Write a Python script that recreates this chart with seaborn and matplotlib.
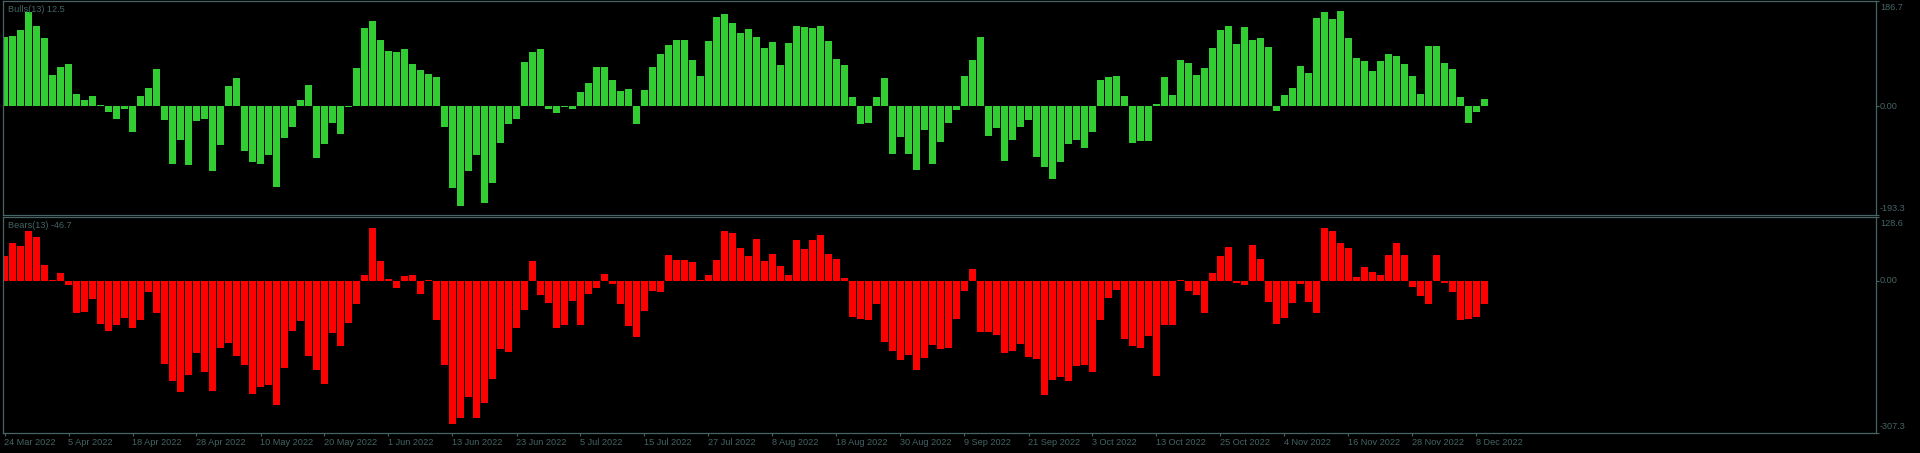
import numpy as np
import pandas as pd
import matplotlib
matplotlib.use("Agg")
import matplotlib.pyplot as plt
import seaborn as sns

# ---------------- data ----------------
bulls = [122.5, 124.3, 135.0, 166.4, 142.1, 120.8, 55.1, 69.3, 74.6, 21.3,
         10.7, 17.8, 1.8, -10.7, -23.1, -5.3, -46.2, 17.8, 32.0, 65.7,
         -24.9, -103.0, -60.4, -104.8, -26.6, -23.1, -115.4, -69.3, 35.5, 49.7,
         -79.9, -99.5, -103.0, -87.0, -143.9, -56.8, -37.3, 10.7, 37.3, -92.4,
         -67.5, -30.2, -49.7, -1.8, 67.5, 138.5, 151.0, 117.2, 97.7, 95.9,
         101.2, 74.6, 63.9, 56.8, 51.5, -37.3, -145.6, -177.6, -115.4, -87.0,
         -172.3, -136.8, -65.7, -32.0, -23.1, 78.1, 95.9, 101.2, -5.3, -12.4,
         -1.8, -5.3, 24.9, 40.8, 69.3, 69.3, 46.2, 26.6, 30.2, -32.0,
         28.4, 69.3, 92.4, 108.3, 117.2, 117.2, 81.7, 53.3, 115.4, 158.1,
         163.4, 147.4, 129.6, 136.8, 122.5, 103.0, 113.7, 72.8, 111.9, 142.1,
         140.3, 138.5, 142.1, 115.4, 83.5, 72.8, 16.0, -32.0, -30.2, 16.0,
         49.7, -85.2, -55.1, -85.2, -113.7, -42.6, -103.0, -63.9, -30.2, -7.1,
         53.3, 81.7, 122.5, -53.3, -39.1, -97.7, -60.4, -37.3, -24.9, -90.6,
         -108.3, -129.6, -99.5, -67.5, -60.4, -74.6, -46.2, 46.2, 51.5, 53.3,
         17.8, -65.7, -62.2, -62.2, 3.6, 51.5, 19.5, 81.7, 76.4, 55.1,
         67.5, 103.0, 135.0, 142.1, 110.1, 140.3, 117.2, 120.8, 104.8, -8.9,
         19.5, 32.0, 71.0, 58.6, 156.3, 166.9, 154.5, 168.7, 120.8, 85.2,
         79.9, 62.2, 79.9, 92.4, 88.8, 74.6, 53.3, 21.3, 106.6, 106.6,
         76.4, 65.7, 16.0, -30.2, -10.7, 12.5]

bears = [50.8, 77.2, 71.1, 101.6, 89.4, 32.5, 2.0, 16.2, -8.1, -65.0,
         -63.0, -36.6, -87.3, -101.6, -89.4, -75.1, -95.5, -79.2, -22.3, -65.0,
         -168.6, -203.1, -225.4, -190.9, -146.2, -184.8, -223.4, -136.1, -125.9, -152.3,
         -170.6, -227.5, -215.3, -211.2, -249.8, -176.7, -101.6, -81.2, -152.3, -180.8,
         -209.2, -105.6, -132.0, -85.3, -46.7, 12.2, 107.6, 40.6, 4.1, -14.2,
         10.2, 12.2, -26.4, 2.0, -79.2, -170.6, -288.4, -276.2, -233.6, -276.2,
         -245.8, -199.0, -138.1, -144.2, -95.5, -58.9, 40.6, -28.4, -44.7, -95.5,
         -89.4, -40.6, -89.4, -26.4, -14.2, 14.2, -6.1, -46.7, -91.4, -113.7,
         -60.9, -20.3, -22.3, 52.8, 42.7, 42.7, 38.6, 2.0, 12.2, 42.7,
         101.6, 97.5, 67.0, 50.8, 85.3, 40.6, 54.8, 30.5, 12.2, 83.3,
         65.0, 83.3, 93.4, 54.8, 44.7, 6.1, -73.1, -77.2, -79.2, -46.7,
         -123.9, -142.2, -160.4, -150.3, -180.8, -156.4, -130.0, -138.1, -136.1, -77.2,
         -20.3, 24.4, -103.6, -103.6, -109.7, -146.2, -142.2, -128.0, -154.4, -158.4,
         -231.5, -201.1, -195.0, -203.1, -172.6, -170.6, -184.8, -79.2, -34.5, -18.3,
         -117.8, -132.0, -136.1, -111.7, -192.9, -89.4, -89.4, 2.0, -20.3, -28.4,
         -65.0, 16.2, 50.8, 69.1, -4.1, -8.1, 73.1, 44.7, -42.7, -87.3,
         -75.1, -44.7, -6.1, -42.7, -65.0, 107.6, 101.6, 77.2, 67.0, 8.1,
         28.4, 18.3, 12.2, 52.8, 77.2, 52.8, -12.2, -30.5, -46.7, 52.8,
         -4.1, -22.3, -79.2, -77.2, -73.1, -46.7]

date_labels = ["24 Mar 2022", "5 Apr 2022", "18 Apr 2022", "28 Apr 2022",
               "10 May 2022", "20 May 2022", "1 Jun 2022", "13 Jun 2022",
               "23 Jun 2022", "5 Jul 2022", "15 Jul 2022", "27 Jul 2022",
               "8 Aug 2022", "18 Aug 2022", "30 Aug 2022", "9 Sep 2022",
               "21 Sep 2022", "3 Oct 2022", "13 Oct 2022", "25 Oct 2022",
               "4 Nov 2022", "16 Nov 2022", "28 Nov 2022", "8 Dec 2022"]
date_step = 8

bulls_title = "Bulls(13) 12.5"
bears_title = "Bears(13) -46.7"
bulls_scale = ["186.7", "0.00", "-193.3"]
bears_scale = ["128.6", "0.00", "-307.3"]
bulls_lim = (-193.3, 186.7)
bears_lim = (-307.3, 128.6)

# ---------------- style ----------------
sns.set_theme(style="dark", rc={
    "axes.facecolor": "black",
    "figure.facecolor": "black",
    "savefig.facecolor": "black",
})
plt.rcParams["font.family"] = ["Liberation Sans", "DejaVu Sans"]

FG = "#466464"
GREEN = "#32CD32"
RED = "#FF0000"
FS = 6.6

W, H = 1920, 453
fig = plt.figure(figsize=(W / 100, H / 100), dpi=100)

def box(x0, y0, x1, y1):
    return [x0 / W, 1 - y1 / H, (x1 - x0) / W, (y1 - y0) / H]

ax1 = fig.add_axes(box(3, 1, 1876, 215))
ax2 = fig.add_axes(box(3, 217.3, 1876, 433))

n = len(bulls)
x0 = -0.1875
x1 = x0 + (1876 - 3) / 8.0

panels = [
    (ax1, bulls, GREEN, bulls_lim, bulls_title, bulls_scale),
    (ax2, bears, RED, bears_lim, bears_title, bears_scale),
]
for ax, vals, col, lim, title, scale in panels:
    df = pd.DataFrame({"i": np.arange(len(vals)), "v": vals})
    sns.barplot(data=df, x="i", y="v", native_scale=True, width=0.875,
                color=col, saturation=1, errorbar=None, linewidth=0,
                edgecolor="none", ax=ax)
    ax.set_xlim(x0, x1)
    ax.set_ylim(*lim)
    ax.set_xlabel("")
    ax.set_ylabel("")
    ax.grid(False)
    for s in ax.spines.values():
        s.set_visible(True)
        s.set_color(FG)
        s.set_linewidth(0.9)
    ax.yaxis.tick_right()
    ax.set_yticks([lim[1], 0, lim[0]])
    ax.set_yticklabels([])
    ax.tick_params(axis="y", which="both", direction="out", length=2.2,
                   width=0.8, color=FG, right=True, left=False)
    for p in ax.patches:
        p.set_antialiased(False)
    ax.text(0.0, 1.0, title, transform=ax.transAxes, color=FG, fontsize=FS,
            ha="left", va="top")
    # move title by pixel offset
    t = ax.texts[-1]
    from matplotlib.transforms import offset_copy
    t.set_transform(offset_copy(ax.transAxes, fig=fig, x=5, y=-4, units="dots"))
    # right scale labels
    from matplotlib.transforms import blended_transform_factory
    tr = offset_copy(blended_transform_factory(ax.transAxes, ax.transData),
                     fig=fig, x=4, y=0, units="dots")
    ax.text(1.0, lim[1], scale[0], transform=offset_copy(tr, fig=fig, x=0, y=-2, units="dots"),
            color=FG, fontsize=FS, ha="left", va="top")
    ax.text(1.0, 0, scale[1], transform=tr, color=FG, fontsize=FS,
            ha="left", va="center")
    ax.text(1.0, lim[0], scale[2], transform=offset_copy(tr, fig=fig, x=0, y=2, units="dots"),
            color=FG, fontsize=FS, ha="left", va="bottom")

ax1.set_xticks([])
ticks = np.arange(0, date_step * len(date_labels), date_step)
ax2.set_xticks(ticks)
ax2.set_xticklabels(date_labels)
ax2.tick_params(axis="x", direction="out", length=2.2, width=0.8, color=FG,
                labelcolor=FG, labelsize=FS, pad=1.5, bottom=True)
for lab in ax2.get_xticklabels():
    lab.set_ha("left")

fig.savefig("out.png", dpi=100, facecolor="black")
